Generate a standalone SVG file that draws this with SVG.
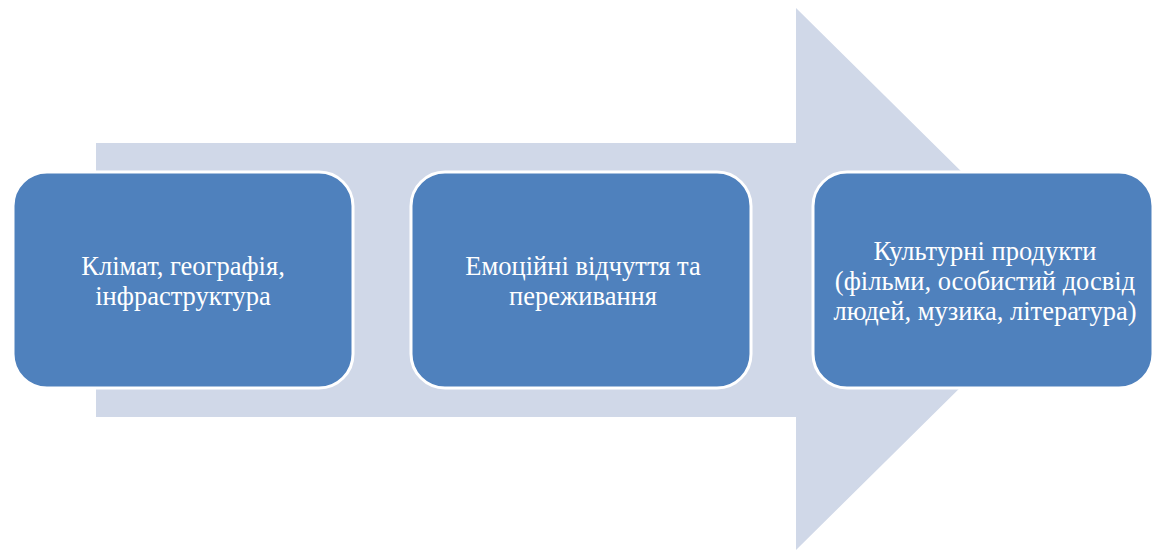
<svg xmlns="http://www.w3.org/2000/svg" width="1154" height="551" viewBox="0 0 1154 551">
<style>
.box{fill:#4f81bd;stroke:#ffffff;stroke-width:3}
.t{font-family:'Liberation Serif','DejaVu Serif',serif;font-size:26.5px;fill:#ffffff;text-anchor:middle}
</style>
<rect width="1154" height="551" fill="#ffffff"/>
<g id="connectors">
<polygon points="96,143 796,143 796,8 1070,279 796,550 796,417 96,417" fill="#d0d8e8"/>
</g>
<g id="node1">
<rect class="box" x="13" y="172" width="340" height="216" rx="34"/>
<text class="t" x="183" y="275">Клімат, географія,</text>
<text class="t" x="183" y="305">інфраструктура</text>
</g>
<g id="node2">
<rect class="box" x="411" y="172" width="340" height="216" rx="34"/>
<text class="t" x="583" y="275">Емоційні відчуття та</text>
<text class="t" x="583" y="305">переживання</text>
</g>
<g id="node3">
<rect class="box" x="813" y="172" width="340" height="216" rx="34"/>
<text class="t" x="985" y="260">Культурні продукти</text>
<text class="t" x="985" y="290">(фільми, особистий досвід</text>
<text class="t" x="985" y="320">людей, музика, література)</text>
</g>
</svg>
